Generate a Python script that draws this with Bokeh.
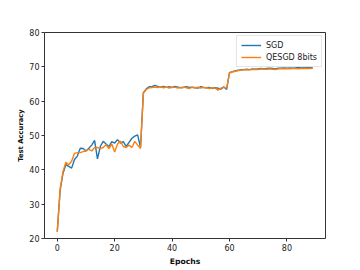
from bokeh.plotting import figure
from bokeh.models import Legend, LegendItem, FixedTicker, Range1d
from bokeh.embed import file_html
from bokeh.resources import INLINE

epochs = list(range(90))
sgd = [22.0, 34.0, 39.0, 41.5, 41.0, 40.5, 43.0, 44.0, 46.3, 46.2,
       45.5, 46.3, 47.2, 48.6, 43.2, 46.8, 48.3, 47.5, 46.8, 48.2,
       47.8, 48.8, 47.8, 48.2, 46.8, 48.0, 49.2, 49.8, 50.2, 46.5,
       62.5, 63.6, 64.2, 64.2, 64.6, 64.3, 64.1, 64.3, 64.0, 64.2,
       64.0, 64.3, 64.1, 63.9, 64.0, 64.2, 64.0, 64.1, 63.9, 63.8,
       64.2, 64.0, 63.9, 64.0, 63.7, 63.9, 63.8, 63.5, 64.2, 63.4,
       68.3, 68.6, 68.8, 69.0, 69.1, 69.2, 69.3, 69.2, 69.4, 69.3,
       69.4, 69.5, 69.4, 69.5, 69.6, 69.5, 69.4, 69.6, 69.6, 69.7,
       69.6, 69.7, 69.6, 69.7, 69.8, 69.7, 69.8, 69.9, 69.8, 69.8]
qesgd = [22.0, 34.5, 39.5, 42.2, 41.5, 42.5, 44.8, 45.0, 45.0, 45.3,
         45.5, 46.0, 45.5, 46.5, 46.5, 46.2, 46.5, 47.3, 46.2, 47.5,
         45.2, 47.5, 48.4, 46.8, 46.5, 47.2, 46.5, 48.3, 47.2, 46.2,
         62.3, 63.4, 63.9, 64.0, 64.1, 64.0, 64.2, 63.9, 64.1, 63.8,
         64.0, 64.1, 63.8, 64.0, 64.1, 63.9, 63.7, 64.0, 63.9, 64.1,
         63.8, 64.0, 63.9, 63.7, 63.9, 63.8, 63.2, 63.8, 64.0, 63.8,
         68.2, 68.5, 68.7, 68.9, 69.0, 69.1, 69.2, 69.1, 69.2, 69.3,
         69.2, 69.4, 69.3, 69.3, 69.4, 69.3, 69.2, 69.4, 69.5, 69.4,
         69.5, 69.4, 69.5, 69.5, 69.4, 69.5, 69.6, 69.5, 69.5, 69.6]
x_ticks = [0, 20, 40, 60, 80]
y_ticks = [20, 30, 40, 50, 60, 70, 80]

p = figure(width=356, height=268, output_backend="svg", toolbar_location=None,
           x_range=Range1d(-4.45, 93.45), y_range=Range1d(20, 80),
           min_border_left=44, min_border_right=31, min_border_top=32, min_border_bottom=28)
p.xgrid.visible = False
p.ygrid.visible = False
p.outline_line_color = "#333333"
p.outline_line_width = 1

r1 = p.line(epochs, sgd, line_color="#1f77b4", line_width=1.4)
r2 = p.line(epochs, qesgd, line_color="#ff7f0e", line_width=1.4)

for ax in (p.xaxis[0], p.yaxis[0]):
    ax.major_label_text_font = "DejaVu Sans"
    ax.major_label_text_font_size = "8px"
    ax.major_label_text_color = "#222222"
    ax.axis_label_text_font = "DejaVu Sans"
    ax.axis_label_text_font_style = "bold"
    ax.axis_label_text_color = "#111111"
    ax.axis_line_color = None
    ax.major_tick_line_color = "#333333"
    ax.major_tick_out = 3
    ax.major_tick_in = 0
    ax.minor_tick_line_color = None
    ax.major_label_standoff = 2

p.xaxis.ticker = FixedTicker(ticks=x_ticks)
p.yaxis.ticker = FixedTicker(ticks=y_ticks)
p.xaxis.axis_label = "Epochs"
p.yaxis.axis_label = "Test Accuracy"
p.xaxis.axis_label_text_font_size = "7.7px"
p.yaxis.axis_label_text_font_size = "6.8px"
p.xaxis.axis_label_standoff = 3
p.yaxis.axis_label_standoff = 1

legend = Legend(items=[LegendItem(label="SGD", renderers=[r1]),
                       LegendItem(label="QESGD 8bits", renderers=[r2])],
                location="top_right")
legend.label_text_font = "DejaVu Sans"
legend.label_text_font_size = "8px"
legend.label_text_color = "#222222"
legend.glyph_width = 20
legend.glyph_height = 10
legend.label_height = 10
legend.spacing = 2
legend.padding = 4
legend.margin = 3
legend.border_line_color = "#cccccc"
legend.background_fill_alpha = 0.8
p.add_layout(legend)

open("out.html", "w").write(file_html(p, INLINE))
